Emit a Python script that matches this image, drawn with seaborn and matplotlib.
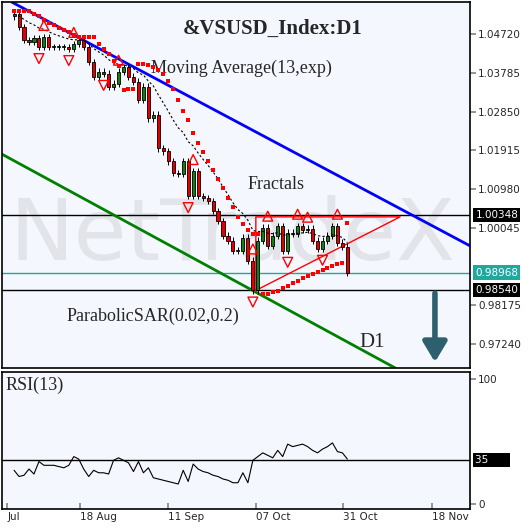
import numpy as np
import pandas as pd
import matplotlib
matplotlib.use("Agg")
import matplotlib.pyplot as plt
import seaborn as sns

sns.set_theme(style="white")
plt.rcParams['font.family'] = ['DejaVu Sans']

closes = [1.05199,1.04888,1.04576,1.04528,1.04624,1.04408,1.04648,1.04408,1.04408,1.04408,
          1.04408,1.04360,1.04480,1.04576,1.04408,1.04049,1.03689,1.03809,1.03761,1.03450,
          1.03521,1.03809,1.03929,1.03689,1.03569,1.03138,1.03450,1.02683,1.02778,1.01964,
          1.01892,1.01652,1.01364,1.01340,1.01652,1.00813,1.01412,1.00813,1.00765,1.00693,
          1.00453,1.00214,0.99854,0.99734,0.99494,0.99494,0.99806,0.99255,0.98536,0.99734,
          1.00046,0.99614,0.99854,1.00094,0.99494,0.99926,0.99902,1.00094,0.99998,1.00022,
          0.99734,0.99542,0.99734,0.99854,1.00094,0.99686,0.99590,0.98964]
first_open = 1.05150
rsi = [27,22,23,28,24,34,31,31,31,30,29,31,38,36,28,22,27,25,25,24,
       35,37,35,33,26,34,25,29,21,20,19,18,17,16,27,18,32,28,26,25,
       23,22,20,19,17,17,25,17,35,38,41,39,37,43,38,48,46,47,48,46,
       43,41,44,46,49,42,41,36]
up_fractals = [6,12,21,36,48,51,57,59,65]
down_fractals = [5,11,18,35,48,55,62]
tick_pos = [-1.4,13.2,31,48.6,66.2,84]
tick_labels = ["Jul","18 Aug","11 Sep","07 Oct","31 Oct","18 Nov"]
price_ticks = [1.04720,1.03785,1.02850,1.01915,1.00980,1.00045,0.99110,0.98175,0.97240]
levels = [1.00348,0.98540]
last_price = 0.98968
blue_line = ([-0.4,91.6],[1.05487,0.99614])
green_line = ([-2.4,76.6],[1.01820,0.96666])
triangle = ([48.6,48.6,77.6,48.6],[0.98536,1.00310,1.00310,0.98536])
arrow_pts = (84.6, 0.98536, 0.96738)

n = len(closes)
idx = np.arange(n)
c = np.array(closes)
o = np.r_[first_open, c[:-1]]
hi = np.maximum(o, c) + 0.0008
lo = np.minimum(o, c) - 0.0008
df = pd.DataFrame({"i": idx, "close": c, "rsi": rsi})
df["ma"] = df["close"].ewm(span=13, adjust=False).mean()

def psar(h, l, af0=0.02, afmax=0.2):
    sar = np.zeros(len(h)); bull = False; af = af0; ep = l[0]; sar[0] = h[0]
    for k in range(1, len(h)):
        s = sar[k-1] + af*(ep - sar[k-1])
        if bull:
            s = min(s, l[k-1], l[max(k-2,0)])
            if l[k] < s:
                bull = False; s = ep; ep = l[k]; af = af0
            elif h[k] > ep:
                ep = h[k]; af = min(af+af0, afmax)
        else:
            s = max(s, h[k-1], h[max(k-2,0)])
            if h[k] > s:
                bull = True; s = ep; ep = h[k]; af = af0
            elif l[k] < ep:
                ep = l[k]; af = min(af+af0, afmax)
        sar[k] = s
    return sar
df["sar"] = psar(hi, lo)

bg = "#f4f7fd"
fig = plt.figure(figsize=(5.32, 5.29), dpi=100)
ax = fig.add_axes([0.004, 0.304, 0.879, 0.692])
ax2 = fig.add_axes([0.004, 0.038, 0.879, 0.259], sharex=ax)
for a in (ax, ax2):
    a.set_facecolor(bg)
    for s in a.spines.values():
        s.set_color("black"); s.set_linewidth(1.2)

xmin, xmax = -2.4, 91.6
ax.set_xlim(xmin, xmax)
ax.set_ylim(0.9666, 1.0549)

ax.text(44, 0.9985, "NetTradeX", fontsize=62, color="#e2e4ea", ha="center", va="center", zorder=0)

# candles
for k in range(n):
    col = "#e00000" if c[k] < o[k] else "#108010"
    ax.vlines(k, lo[k], hi[k], color="black", lw=0.7, zorder=3)
    b0, b1 = min(o[k], c[k]), max(o[k], c[k])
    ax.bar(k, max(b1-b0, 0.0002), bottom=b0, width=0.62, color=col, edgecolor="black", lw=0.6, zorder=4)

sns.lineplot(data=df, x="i", y="ma", ax=ax, color="black", lw=0.8, linestyle=(0, (2, 2)), zorder=5)
sns.scatterplot(data=df, x="i", y="sar", ax=ax, color="#ff0000", marker="s", s=9, linewidth=0, zorder=6)
ax.scatter(up_fractals, hi[up_fractals] + 0.0020, marker="^", s=50, facecolors="none", edgecolors="red", lw=1, zorder=6)
ax.scatter(down_fractals, lo[down_fractals] - 0.0020, marker="v", s=50, facecolors="none", edgecolors="red", lw=1, zorder=6)

ax.plot(*blue_line, color="#0000ff", lw=2, zorder=2)
ax.plot(*green_line, color="#008000", lw=2, zorder=2)
ax.plot(*triangle, color="#ff0000", lw=1, zorder=2)
for lv in levels:
    ax.axhline(lv, color="black", lw=1, zorder=1)
ax.axhline(last_price, color="#20a8a0", lw=1, zorder=1)
ax.annotate("", xy=(arrow_pts[0], arrow_pts[2]), xytext=(arrow_pts[0], arrow_pts[1]),
            arrowprops=dict(arrowstyle="-|>,head_width=0.6,head_length=1.0", color="#2e5f6e", lw=4))

serif = ["Liberation Serif"]
ax.text(52, 1.0485, "&VSUSD_Index:D1", fontsize=15, fontweight="bold", family=serif, ha="center", va="center")
ax.text(27.5, 1.0390, "Moving Average(13,exp)", fontsize=13, family=serif, ha="left", va="center")
ax.text(47, 1.0108, "Fractals", fontsize=13, family=serif, ha="left", va="center")
ax.text(10.5, 0.9790, "ParabolicSAR(0.02,0.2)", fontsize=13, family=serif, ha="left", va="center")
ax.text(69.5, 0.9728, "D1", fontsize=15, family=serif, ha="left", va="center")

ax.yaxis.tick_right()
shown = [p for p in price_ticks if p != 0.99110]
ax.set_yticks(shown)
ax.set_yticklabels([f"{p:.5f}" for p in shown], fontsize=7.5)
ax.tick_params(axis="y", length=4, color="#888888", pad=2, right=True)
ax.tick_params(axis="x", bottom=False, labelbottom=False)
ax.set_xlabel(""); ax.set_ylabel("")
for lv, fc in [(levels[0], "black"), (levels[1], "black"), (last_price, "#20a8a0")]:
    ax.text(1.012, lv, f"{lv:.5f}", transform=ax.get_yaxis_transform(), fontsize=7.5, color="white",
            va="center", ha="left", bbox=dict(boxstyle="square,pad=0.2", fc=fc, ec="none"), clip_on=False)

# RSI
sns.lineplot(data=df, x="i", y="rsi", ax=ax2, color="black", lw=0.8)
ax2.axhline(35, color="black", lw=1)
ax2.set_ylim(-4, 106)
ax2.yaxis.tick_right()
ax2.set_yticks([0, 100]); ax2.set_yticklabels(["0", "100"], fontsize=7.5)
ax2.tick_params(axis="y", length=4, color="#888888", pad=2)
ax2.text(1.012, 35, "35      ", transform=ax2.get_yaxis_transform(), fontsize=7.5, color="white",
         va="center", ha="left", bbox=dict(boxstyle="square,pad=0.2", fc="black", ec="none"), clip_on=False)
ax2.text(0.008, 0.90, "RSI(13)", transform=ax2.transAxes, fontsize=13, family=serif, va="center")
ax2.set_xticks(tick_pos)
ax2.set_xticklabels(tick_labels, fontsize=7.5, ha="left")
ax2.tick_params(axis="x", bottom=True, length=4, pad=2, direction="in", color="#888888")
ax2.set_xlabel(""); ax2.set_ylabel("")

fig.savefig("out.png", dpi=100, facecolor="white")
